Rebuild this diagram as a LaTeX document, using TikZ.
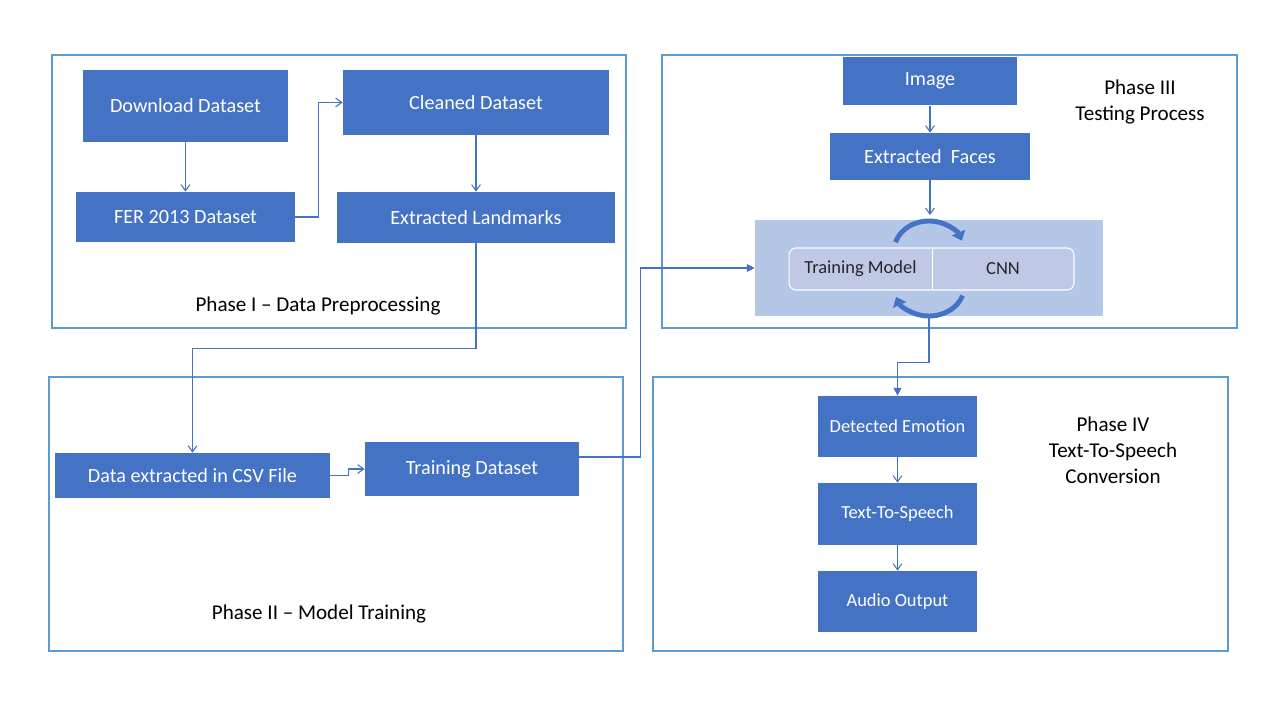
\documentclass[tikz,border=0pt]{standalone}
\usepackage{fontspec}
\setmainfont{Carlito}
\usetikzlibrary{arrows.meta}

\definecolor{boxblue}{HTML}{4472C4}
\definecolor{framblue}{HTML}{5B9BD5}
\definecolor{paleblue}{HTML}{B4C7E7}
\definecolor{lavblue}{HTML}{BFC9E6}

\begin{document}
\begin{tikzpicture}[
    x=0.02cm, y=-0.02cm,
    stage/.style={rectangle, fill=boxblue, text=white, inner sep=2pt, font=\fontsize{11.5}{13}\selectfont},
    smallstage/.style={stage, font=\fontsize{10.5}{12}\selectfont, minimum width=3.18cm},
    half/.style={rectangle, minimum height=0.84cm, font=\fontsize{10.5}{12}\selectfont, text=black!85},
    frame/.style={draw=framblue, line width=0.6pt},
    phase/.style={font=\fontsize{12}{14.7}\selectfont, align=center},
    link/.style={draw=boxblue, line width=0.6pt, -{Straight Barb[length=3.5pt,width=5pt]}},
    linkf/.style={draw=boxblue, line width=0.6pt, -{Triangle[length=4.5pt,width=4.5pt]}},
    cycle/.style={draw=boxblue, line width=2.8pt, -{Triangle[length=5pt,width=8pt]}}
]
\useasboundingbox[fill=white] (0,0) rectangle (1280,720);

% Define phase frames
\draw[frame] (52,55) rectangle (626,328);
\draw[frame] (49,377) rectangle (623,651);
\draw[frame] (662,55) rectangle (1237,328);
\draw[frame] (653,377) rectangle (1228,651);

% Phase I
\node[stage, minimum width=4.1cm, minimum height=1.44cm] (download) at (185.5,106) {Download Dataset};
\node[stage, minimum width=4.38cm, minimum height=1.0cm] (fer) at (185.5,217) {FER 2013 Dataset};
\node[stage, minimum width=5.32cm, minimum height=1.3cm] (cleaned) at (476,102.5) {Cleaned Dataset};
\node[stage, minimum width=5.56cm, minimum height=1.02cm] (landmarks) at (476,217.5) {Extracted Landmarks};
\node[phase] (phaseone) at (318,306) {Phase I -- Data Preprocessing};

% Phase II
\node[stage, minimum width=5.5cm, minimum height=0.9cm] (csv) at (192.5,475.5) {Data extracted in CSV File};
\node[stage, minimum width=4.28cm, minimum height=1.08cm] (trainset) at (472,469) {Training Dataset};
\node[phase] (phasetwo) at (319,614) {Phase II -- Model Training};

% Phase III
\node[stage, minimum width=3.48cm, minimum height=0.98cm] (image) at (930,81) {Image};
\node[stage, minimum width=4.0cm, minimum height=0.94cm] (faces) at (930,156.5) {Extracted~ Faces};
\node[rectangle, fill=paleblue, minimum width=6.96cm, minimum height=1.92cm] (bigbox) at (929,268) {};
\node[rectangle, draw=white, fill=lavblue, rounded corners=4pt, line width=0.6pt, minimum width=5.7cm, minimum height=0.84cm] (split) at (931.5,269) {};
\node[half, minimum width=2.86cm] (model) at (860.5,269) {Training Model};
\node[half, minimum width=2.84cm] (cnn) at (1003,269) {CNN};
\draw[white, line width=0.6pt] (model.north east) -- (model.south east);
\coordinate (topc) at (929,251);
\coordinate (botc) at (929,287);
\coordinate (cyctop) at (930,215);
\draw[cycle] ([shift={(163:0.7cm and 0.6cm)}]topc) arc[start angle=163, end angle=20, x radius=0.7cm, y radius=0.6cm];
\draw[cycle] ([shift={(-17:0.7cm and 0.58cm)}]botc) arc[start angle=-17, end angle=-160, x radius=0.7cm, y radius=0.58cm];
\node[phase] (phasethree) at (1140,102) {Phase III\\Testing Process};

% Phase IV
\node[smallstage, minimum height=1.22cm] (emotion) at (897.5,426.5) {Detected Emotion};
\node[smallstage, minimum height=1.24cm] (tts) at (897.5,514) {Text-To-Speech};
\node[smallstage, minimum height=1.22cm] (audio) at (897.5,601.5) {Audio Output};
\node[phase] (phasefour) at (1113,450) {Phase IV\\Text-To-Speech\\Conversion};

% Define connectors
\draw[link] (download) -- (fer);
\draw[link] (fer.east) -- ++(23,0) |- (cleaned.west);
\draw[link] (cleaned) -- (landmarks);
\draw[link] (landmarks.south) -- ++(0,105) -| (csv.north);
\draw[link] (csv.east) -- ++(18,0) |- (trainset.west);
\coordinate (tdout) at ([yshift=0.24cm]trainset.east);
\draw[linkf] (tdout) -- ++(61,0) |- (bigbox.west);
\draw[link] (image) -- (faces);
\draw[link] (faces.south) -- (cyctop);
\draw[linkf] (bigbox.south) -- ++(0,46) -| (emotion.north);
\draw[link] (emotion) -- (tts);
\draw[link] (tts) -- (audio);

\end{tikzpicture}
\end{document}
